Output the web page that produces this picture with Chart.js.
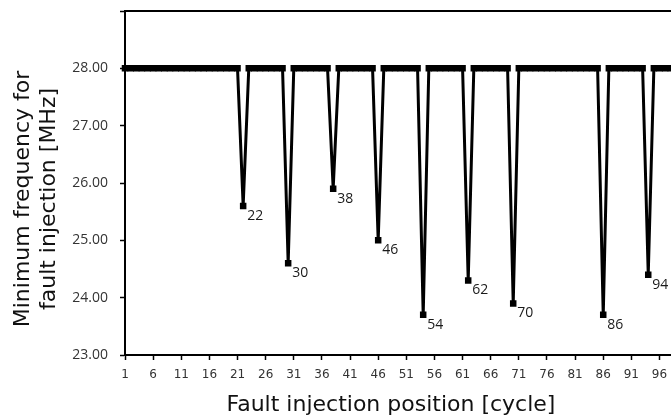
<!DOCTYPE html>
<html>
<head>
<meta charset="utf-8">
<script src="https://cdn.jsdelivr.net/npm/chart.js@4.4.1/dist/chart.umd.min.js"></script>
<style>
  html, body { margin: 0; padding: 0; background: #fff; overflow: hidden; }
  #wrap { position: relative; width: 690px; height: 419px; }
</style>
</head>
<body>
<div id="wrap"><canvas id="myChart"></canvas></div>
<script>
const canvas = document.getElementById('myChart');

// Fault injection positions 1..100
const pozicije = [];
for (let i = 1; i <= 100; i++) pozicije.push(i);

// Cycles where the minimum frequency drops, and the frequency there [MHz]
const padPozicije = [22, 30, 38, 46, 54, 62, 70, 86, 94];
const padFrekvencije = [25.6, 24.6, 25.9, 25.0, 23.7, 24.3, 23.9, 23.7, 24.4];
const nominalna = 28.0;

const yTicks = [23, 24, 25, 26, 27, 28, 29];

const frekvencije = pozicije.map(p => {
    const idx = padPozicije.indexOf(p);
    return idx >= 0 ? padFrekvencije[idx] : nominalna;
});

// Labels the dips with their cycle number
const dipLabels = {
    id: 'dipLabels',
    afterDatasetsDraw(chart) {
        const ctx = chart.ctx;
        const meta = chart.getDatasetMeta(0);
        ctx.save();
        ctx.font = '14px "Open Sans", "Noto Sans", sans-serif';
        ctx.fillStyle = '#1a1a1a';
        ctx.textBaseline = 'top';
        ctx.textAlign = 'left';
        meta.data.forEach((pt, i) => {
            if (frekvencije[i] < nominalna) {
                ctx.fillText(String(pozicije[i]), pt.x + 4, pt.y + 3);
            }
        });
        ctx.restore();
    }
};

// Axis titles
const axisTitles = {
    id: 'axisTitles',
    afterDraw(chart) {
        const ctx = chart.ctx;
        ctx.save();
        ctx.fillStyle = '#111';
        ctx.font = '22px "DejaVu Sans", sans-serif';
        ctx.textAlign = 'center';
        ctx.textBaseline = 'middle';
        ctx.fillText('Fault injection position [cycle]', 391, 405);
        ctx.translate(0, 199);
        ctx.rotate(-Math.PI / 2);
        ctx.fillText('Minimum frequency for', 0, 23);
        ctx.fillText('fault injection [MHz]', 0, 49);
        ctx.restore();
    }
};

const myChart = new Chart(canvas, {
    type: 'line',
    data: {
        labels: pozicije,
        datasets: [{
            label: 'Minimum frequency',
            data: frekvencije,
            borderColor: '#000',
            backgroundColor: '#000',
            borderWidth: 3,
            pointStyle: 'rect',
            pointRadius: 4.6,
            pointBorderWidth: 0,
            tension: 0
        }]
    },
    options: {
        responsive: true,
        maintainAspectRatio: false,
        animation: false,
        layout: { padding: 0 },
        plugins: {
            legend: { display: false },
            tooltip: { enabled: false }
        },
        scales: {
            x: {
                type: 'category',
                offset: false,
                afterFit: s => { s.height = 64; },
                border: { color: '#000', width: 2 },
                grid: {
                    drawOnChartArea: false,
                    drawTicks: true,
                    tickLength: 5,
                    tickWidth: 1.5,
                    color: c => (c.index % 5 === 0 ? '#000' : 'rgba(0,0,0,0)')
                },
                ticks: {
                    autoSkip: false,
                    maxRotation: 0,
                    padding: 8,
                    color: '#333',
                    font: { family: 'DejaVu Sans', size: 12 },
                    callback: (v, i) => (i % 5 === 0 ? String(pozicije[i]) : '')
                }
            },
            x2: {
                type: 'category',
                position: 'top',
                afterFit: s => { s.height = 11; },
                border: { color: '#000', width: 2 },
                grid: { display: false },
                ticks: { display: false }
            },
            y: {
                min: 23,
                max: 29,
                afterFit: s => {
                    s.width = 125;
                    s.paddingTop = 0;
                    s.paddingBottom = 0;
                },
                afterBuildTicks: s => {
                    s.ticks = yTicks.map(v => ({ value: v }));
                },
                border: { color: '#000', width: 2 },
                grid: {
                    drawOnChartArea: false,
                    drawTicks: true,
                    tickLength: 5,
                    tickWidth: 1.5,
                    color: '#000'
                },
                ticks: {
                    padding: 12,
                    color: '#333',
                    font: { family: 'Open Sans', size: 14 },
                    callback: v => (v === 29 ? '' : v.toFixed(2))
                }
            }
        }
    },
    plugins: [dipLabels, axisTitles]
});
</script>
</body>
</html>
